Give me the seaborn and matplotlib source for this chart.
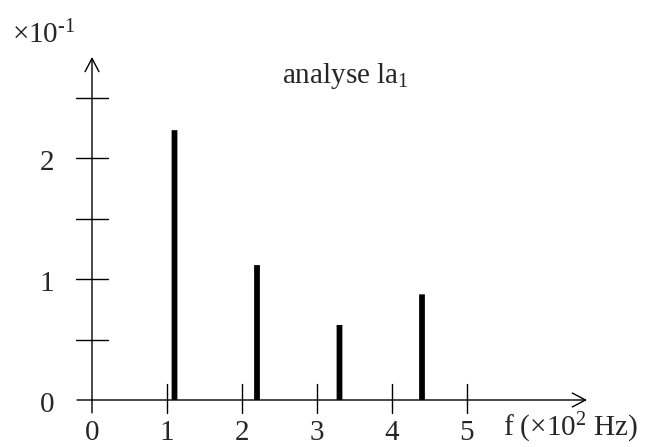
import matplotlib
matplotlib.use("Agg")
import matplotlib.pyplot as plt
import seaborn as sns
import pandas as pd

# spectre du la1 : frequences (x10^2 Hz) et amplitudes (x10^-1)
freqs = [1.1, 2.2, 3.3, 4.4]
amps = [2.23, 1.115, 0.62, 0.873]
x_ticks = [0, 1, 2, 3, 4, 5]
y_ticks = [0, 1, 2]
y_minor = [0.5, 1.5, 2.5]

sns.set_theme(style="white")
plt.rcParams["font.family"] = ["Liberation Serif", "DejaVu Serif"]
plt.rcParams["mathtext.fontset"] = "custom"
plt.rcParams["mathtext.rm"] = "Liberation Serif"
plt.rcParams["mathtext.it"] = "Liberation Serif:italic"

df = pd.DataFrame({"f": freqs, "a": amps})

fig = plt.figure(figsize=(6.48, 4.47), dpi=100)
ax = fig.add_axes([0, 0, 1, 1])

sns.barplot(data=df, x="f", y="a", native_scale=True, width=0.07,
            color="black", linewidth=0, errorbar=None, ax=ax)
for p in ax.patches:
    p.set_snap(False)

ax.set_xlim(-92 / 75, (648 - 92) / 75)
ax.set_ylim(-47 / 121, 400 / 121)
ax.axis("off")

# axes avec fleches
arrow = dict(arrowstyle="->,head_length=0.95,head_width=0.5", mutation_scale=10,
             lw=1.0, color="black", shrinkA=0, shrinkB=0)
ax.annotate("", xy=(6.6, 0), xytext=(-0.2, 0), arrowprops=arrow)
ax.annotate("", xy=(0, 2.835), xytext=(0, -0.107), arrowprops=arrow)

# graduations
for x in x_ticks[1:]:
    ax.plot([x, x], [-0.107, 0.132], color="black", lw=1.0)
for y in y_ticks[1:] + y_minor:
    ax.plot([-0.213, 0.213], [y, y], color="black", lw=1.0)

fs = 21
for x in x_ticks:
    ax.text(x, -0.33, str(x), ha="center", va="baseline", fontsize=fs)
for y in y_ticks:
    ax.text(-0.6, y - 0.1, str(y), ha="center", va="baseline", fontsize=fs)

ax.text(-1.067, 2.95, r"×10$^{\text{-1}}$", ha="left", va="baseline", fontsize=fs)
ax.text(2.533, 2.62, r"analyse la$_{\mathrm{1}}$", ha="left", va="baseline", fontsize=fs)
ax.text(5.48, -0.3, r"f (×10$^{\mathrm{2}}$ Hz)", ha="left", va="baseline", fontsize=fs)

fig.savefig("out.png", dpi=100)
